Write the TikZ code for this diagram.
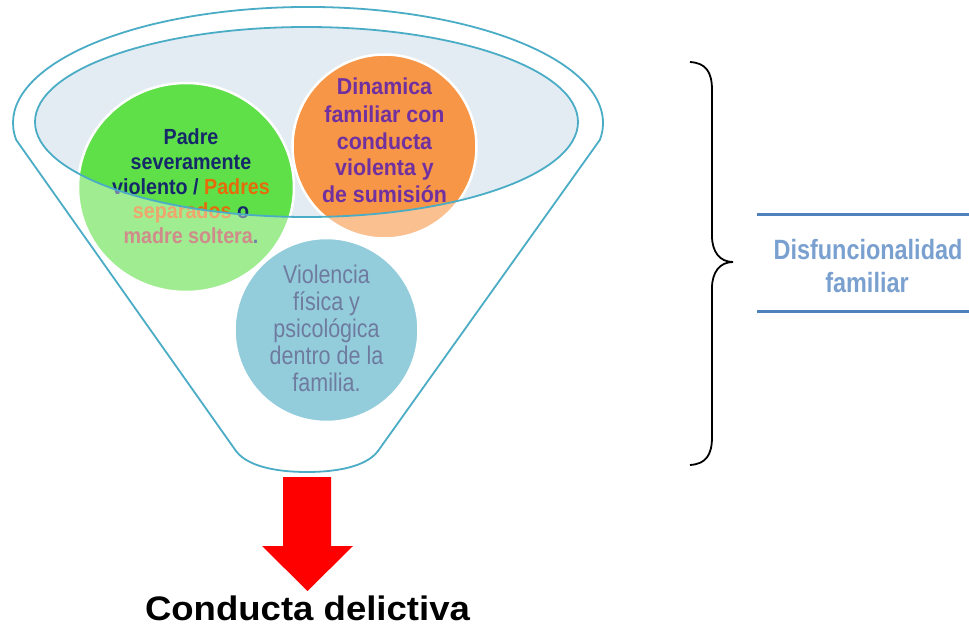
\documentclass[tikz,border=0pt]{standalone}
\usepackage{fontspec}
\setmainfont{Liberation Sans}
\newfontfamily\fGreen[FakeStretch=0.9]{Liberation Sans}
\newfontfamily\fOrange[FakeStretch=0.93]{Liberation Sans}
\newfontfamily\fBlue[FakeStretch=0.84]{Liberation Sans}
\newfontfamily\fLabel[FakeStretch=0.84]{Liberation Sans}
\newfontfamily\fBottom[FakeStretch=1.075]{Liberation Sans}
\definecolor{funnelC}{HTML}{4BACC6}
\definecolor{innerC}{HTML}{E3ECF3}
\definecolor{greenC}{HTML}{60E048}
\definecolor{orangeC}{HTML}{F79646}
\definecolor{blueC}{HTML}{4BACC6}
\definecolor{navyT}{HTML}{14286A}
\definecolor{navyB}{HTML}{10245E}
\definecolor{orangeT}{HTML}{E46C0A}
\definecolor{redT}{HTML}{B0403E}
\definecolor{purpleT}{HTML}{7030A0}
\definecolor{labelT}{HTML}{7AA0CF}
\definecolor{sepC}{HTML}{4F81BD}
\tikzset{
  gtext/.style={anchor=base, inner sep=0pt, text=navyT, font=\fGreen\bfseries\fontsize{21.9}{24}\selectfont},
  otext/.style={anchor=base, inner sep=0pt, text=purpleT, font=\fOrange\bfseries\fontsize{23}{25}\selectfont},
  btext/.style={anchor=base, inner sep=0pt, text=navyB, font=\fBlue\fontsize{25.6}{27}\selectfont},
  ltext/.style={anchor=base, inner sep=0pt, text=labelT, font=\fLabel\bfseries\fontsize{27.9}{30}\selectfont},
  restext/.style={anchor=base, inner sep=0pt, text=black, font=\fBottom\bfseries\fontsize{34}{36}\selectfont},
  circ/.style={draw=white, line width=2.5pt},
  funnelline/.style={draw=funnelC, line width=1.8pt},
  sepline/.style={draw=sepC, line width=3pt},
  bracestyle/.style={draw=black, line width=1.8pt}
}
\begin{document}
\begin{tikzpicture}[x=1pt,y=1pt]
\useasboundingbox (0,0) rectangle (969,-628);
% inner opening of the funnel
\fill[innerC] (306.5,-122) ellipse[x radius=271.5, y radius=95];
% circles
\path[circ, fill=blueC] (326.5,-330) circle[radius=92];
\node[btext] (b1) at (326.5,-283.5) {Violencia};
\node[btext] (b2) at (326.5,-310.5) {física y};
\node[btext] (b3) at (326.5,-337.5) {psicológica};
\node[btext] (b4) at (326.5,-364.5) {dentro de la};
\node[btext] (b5) at (326.5,-391.5) {familia.};
\path[circ, fill=greenC] (186,-187.5) ellipse[x radius=108, y radius=104.5];
\node[gtext] (g1) at (191,-145) {Padre};
\node[gtext] (g2) at (191,-170) {severamente};
\node[gtext] (g3) at (191,-194.5) {violento / \textcolor{orangeT}{Padres}};
\node[gtext] (g4) at (191,-219) {\textcolor{orangeT}{separados} o};
\node[gtext] (g5) at (191,-244) {\textcolor{redT}{madre soltera}.};
\path[circ, fill=orangeC] (384.5,-146.5) circle[radius=92];
\node[otext] (o1) at (384.5,-95) {Dinamica};
\node[otext] (o2) at (384.5,-122.5) {familiar con};
\node[otext] (o3) at (384.5,-149.5) {conducta};
\node[otext] (o4) at (384.5,-176) {violenta y};
\node[otext] (o5) at (384.5,-203) {de sumisión};
% translucent front of the funnel
\fill[white, fill opacity=0.4, even odd rule]
  (16.2,-139.9) arc[start angle=188.4, end angle=-8.4, x radius=295, y radius=116]
  -- (378,-451) .. controls (366,-467) and (336,-472) .. (307,-472)
  .. controls (278,-472) and (248,-467) .. (236,-451) -- cycle
  (306.5,-122) ellipse[x radius=271.5, y radius=95];
% outlines
\draw[funnelline]
  (16.2,-139.9) arc[start angle=188.4, end angle=-8.4, x radius=295, y radius=116]
  -- (378,-451) .. controls (366,-467) and (336,-472) .. (307,-472)
  .. controls (278,-472) and (248,-467) .. (236,-451) -- cycle;
\draw[funnelline] (306.5,-122) ellipse[x radius=271.5, y radius=95];
% red arrow
\fill[red] (283,-477) -- (331,-477) -- (331,-546) -- (353,-546) -- (307.5,-591)
  -- (262,-546) -- (283,-546) -- cycle;
\node[restext] (res) at (307.5,-620.5) {Conducta delictiva};
% brace
\draw[bracestyle] (690,-62) .. controls (706,-63) and (712,-72) .. (712,-90)
  -- (712,-236) .. controls (712,-252) and (720,-262) .. (733,-262)
  .. controls (720,-262) and (712,-272) .. (712,-288)
  -- (712,-437) .. controls (712,-455) and (706,-464) .. (690,-465);
% label
\draw[sepline] (757,-215) -- (969,-215);
\draw[sepline] (757,-312) -- (969,-312);
\node[ltext] (l1) at (868,-260) {Disfuncionalidad};
\node[ltext] (l2) at (867,-293) {familiar};
\end{tikzpicture}
\end{document}
